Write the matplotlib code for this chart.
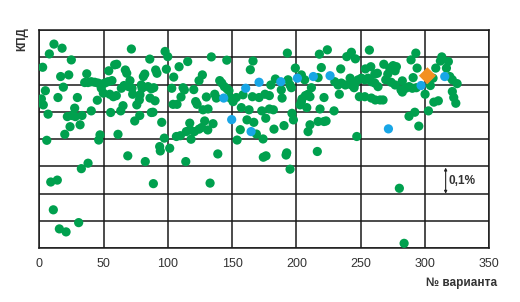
import matplotlib
matplotlib.use("Agg")
import matplotlib.pyplot as plt

# green points: variant number, efficiency (grid step = 0.1 %)
green_x = [
    11.4, 17.7, 7.8, 71.6, 24.9, 85.9, 2.6, 58.6, 60.2, 54.0, 66.9, 68.0, 22.9, 16.6, 82.0, 80.9,
    36.9, 35.3, 37.9, 40.4, 43.1, 45.7, 48.2, 50.9, 53.4, 56.5, 70.5, 63.8, 65.9, 69.5, 72.1, 79.3,
    79.9, 84.5, 87.1, 18.7, 4.7, 48.2, 49.8, 54.8, 59.9, 57.6, 72.6, 78.3, 77.8, 75.8, 86.1, 1.6,
    14.5, 29.6, 45.1, 3.1, 27.5, 65.1, 63.3, 6.8, 40.4, 55.5, 87.1, 21.8, 25.4, 28.0, 33.2, 78.1,
    74.2, 23.9, 31.7, 19.8, 47.2, 46.2, 61.2, 5.8, 68.8,
    97.8, 99.9, 115.4, 133.8, 145.8, 166.2, 164.1, 90.5, 91.5, 98.8, 108.7, 104.5, 126.8, 124.2,
    140.3, 141.9, 143.9, 146.0, 147.5, 89.0, 103.0, 111.8, 112.8, 120.1, 129.9, 136.4, 137.7,
    148.6, 150.7, 153.2, 158.4, 165.7, 170.9, 175.5, 110.2, 90.0, 104.0, 107.1, 121.6, 122.7,
    127.3, 131.2, 88.4, 157.1, 163.1, 173.0, 95.2, 117.0, 128.6, 135.1, 161.5, 166.8, 176.1,
    114.3, 117.4, 120.6, 124.2, 126.3, 131.0, 156.3, 168.8, 106.6, 109.7, 118.0, 97.2, 153.8,
    174.0, 93.6, 94.1, 101.4, 138.8,
    192.9, 217.8, 224.0, 242.7, 239.1, 245.8, 256.7, 199.1, 219.3, 234.4, 253.6, 257.8, 260.9,
    262.9, 183.6, 193.4, 195.0, 196.0, 203.8, 206.4, 216.8, 229.8, 232.3, 234.9, 238.0, 241.7,
    242.7, 245.3, 247.9, 250.5, 253.1, 255.7, 258.2, 260.9, 263.4, 180.0, 188.2, 211.6, 233.3,
    244.8, 248.9, 253.1, 258.2, 261.3, 265.0, 178.9, 188.8, 204.3, 206.9, 209.0, 210.5, 221.4,
    202.8, 203.8, 208.0, 218.3, 229.2, 178.9, 182.0, 196.5, 197.6, 190.3, 182.5, 210.5, 209.0,
    216.8, 221.4, 223.0, 246.9, 192.4, 216.2,
    292.8, 289.1, 313.0, 311.9, 318.1, 293.8, 316.6, 267.9, 272.5, 275.1, 277.7, 276.7, 271.0,
    269.4, 273.6, 276.7, 282.3, 290.7, 281.3, 282.3, 285.0, 287.5, 290.1, 293.2, 304.1, 306.2,
    308.3, 300.0, 319.2, 321.2, 324.9, 321.2, 322.3, 323.9, 306.8, 310.3, 267.3, 302.6, 287.5,
    292.0, 295.1,
    8.9, 14.0, 10.9, 15.6, 20.8, 30.6, 32.7, 37.9, 82.4, 88.7, 113.9, 132.8, 174.2, 176.3,
    191.9, 195.0, 280.0, 283.7,
]
green_y = [
    0.749, 0.734, 0.713, 0.731, 0.691, 0.694, 0.664, 0.673, 0.675, 0.651, 0.654, 0.642, 0.636, 0.630, 0.639, 0.630,
    0.640, 0.608, 0.608, 0.611, 0.609, 0.606, 0.602, 0.606, 0.611, 0.615, 0.615, 0.587, 0.597, 0.593, 0.587, 0.599,
    0.587, 0.593, 0.585, 0.591, 0.578, 0.587, 0.569, 0.565, 0.560, 0.556, 0.565, 0.563, 0.544, 0.526, 0.551, 0.548,
    0.553, 0.553, 0.543, 0.526, 0.514, 0.523, 0.504, 0.492, 0.504, 0.498, 0.498, 0.483, 0.487, 0.483, 0.487, 0.487,
    0.467, 0.446, 0.453, 0.418, 0.416, 0.397, 0.418, 0.396, 0.339,
    0.722, 0.703, 0.685, 0.702, 0.690, 0.687, 0.655, 0.654, 0.642, 0.657, 0.666, 0.628, 0.636, 0.615,
    0.615, 0.606, 0.593, 0.585, 0.578, 0.589, 0.587, 0.589, 0.581, 0.582, 0.555, 0.565, 0.551,
    0.551, 0.538, 0.553, 0.563, 0.556, 0.553, 0.565, 0.555, 0.541, 0.528, 0.528, 0.538, 0.528,
    0.508, 0.511, 0.499, 0.516, 0.508, 0.504, 0.462, 0.459, 0.467, 0.457, 0.471, 0.462, 0.477,
    0.428, 0.434, 0.428, 0.437, 0.443, 0.434, 0.435, 0.419, 0.410, 0.413, 0.400, 0.404, 0.397,
    0.401, 0.373, 0.357, 0.367, 0.346,
    0.716, 0.712, 0.728, 0.719, 0.703, 0.695, 0.727, 0.661, 0.663, 0.658, 0.658, 0.666, 0.639,
    0.642, 0.621, 0.618, 0.599, 0.589, 0.636, 0.618, 0.626, 0.611, 0.599, 0.606, 0.599, 0.624,
    0.599, 0.602, 0.618, 0.624, 0.618, 0.624, 0.611, 0.606, 0.593, 0.599, 0.581, 0.589, 0.565,
    0.589, 0.556, 0.556, 0.551, 0.544, 0.544, 0.560, 0.551, 0.548, 0.560, 0.565, 0.556, 0.553,
    0.526, 0.538, 0.516, 0.511, 0.504, 0.511, 0.508, 0.495, 0.471, 0.450, 0.437, 0.453, 0.428,
    0.465, 0.465, 0.467, 0.410, 0.350, 0.355,
    0.716, 0.691, 0.702, 0.687, 0.685, 0.661, 0.661, 0.675, 0.661, 0.670, 0.666, 0.651, 0.639,
    0.618, 0.609, 0.599, 0.614, 0.626, 0.581, 0.573, 0.587, 0.593, 0.587, 0.589, 0.597, 0.624,
    0.661, 0.565, 0.630, 0.618, 0.604, 0.575, 0.553, 0.532, 0.536, 0.541, 0.544, 0.504, 0.484,
    0.499, 0.448,
    0.243, 0.250, 0.141, 0.071, 0.060, 0.094, 0.292, 0.312, 0.318, 0.237, 0.318, 0.239, 0.334, 0.339,
    0.342, 0.290, 0.220, 0.018,
]

# blue points
blue_x = [170.9, 160.5, 143.4, 149.6, 164.7, 187.8, 200.7, 213.1, 226.1, 315.3, 296.9, 271.5]
blue_y = [0.609, 0.587, 0.551, 0.472, 0.428, 0.611, 0.624, 0.630, 0.633, 0.630, 0.597, 0.438]

# highlighted variant
best_x = [301.8]
best_y = [0.633]

x_ticks = [0, 50, 100, 150, 200, 250, 300, 350]
y_grid = [0.0, 0.1, 0.2, 0.3, 0.4, 0.5, 0.6, 0.7, 0.8]

GREEN = "#00a04e"
BLUE = "#18a6e6"
ORANGE = "#f39021"
FONT = ["Liberation Sans Narrow", "Liberation Sans", "DejaVu Sans"]

plt.rcParams['font.family'] = FONT

fig = plt.figure(figsize=(5.2, 3.02), dpi=100)
ax = fig.add_axes([0.0756, 0.178, 0.8655, 0.722])

ax.scatter(green_x, green_y, s=44, color=GREEN, edgecolors="none", zorder=3)
ax.scatter(blue_x, blue_y, s=44, color=BLUE, edgecolors="none", zorder=4)
ax.scatter(best_x, best_y, s=75, marker="D", color=ORANGE, edgecolors="none", zorder=5)

ax.set_xlim(0, 350)
ax.set_ylim(0, 0.8)
ax.set_xticks(x_ticks)
ax.set_yticks(y_grid)
ax.set_yticklabels([])
ax.tick_params(length=0, labelsize=9, pad=7, colors="#333333")
ax.grid(True, color="#1a1a1a", linewidth=1.1, zorder=1)
ax.set_axisbelow(True)
for s in ax.spines.values():
    s.set_color("#1a1a1a")
    s.set_linewidth(1.1)

# scale marker
ax.annotate("", xy=(316, 0.296), xytext=(316, 0.200),
            arrowprops=dict(arrowstyle="<|-|>", lw=0.8, color="#222222",
                            mutation_scale=4, shrinkA=0, shrinkB=0))
ax.text(318, 0.248, "0,1%", fontsize=8.5, fontweight="bold", va="center", ha="left",
        color="#333333")

fig.text(0.042, 0.87, "КПД", rotation=90, fontsize=8.5, fontweight="bold",
         ha="center", va="center", color="#333333")
fig.text(0.956, 0.063, "№ варианта", fontsize=8.5, fontweight="bold",
         ha="right", va="center", color="#333333")

fig.savefig("out.png", dpi=100)
